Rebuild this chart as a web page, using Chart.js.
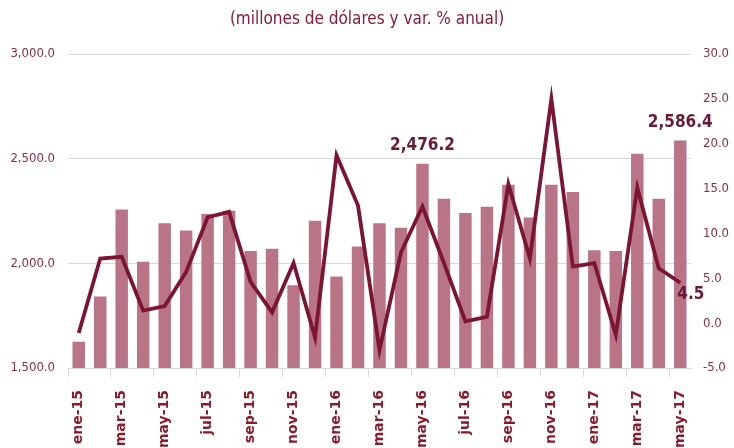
<!DOCTYPE html>
<html>
<head>
<meta charset="utf-8">
<script src="https://cdn.jsdelivr.net/npm/chart.js@4"></script>
<style>
  html, body { margin: 0; padding: 0; background: #fff; }
  #wrap { width: 734px; height: 448px; position: relative; }
</style>
</head>
<body>
<div id="wrap"><canvas id="chart"></canvas></div>
<script>
// --- Data ---
const months = [
  "ene-15", "feb-15", "mar-15", "abr-15", "may-15", "jun-15", "jul-15", "ago-15", "sep-15", "oct-15", "nov-15", "dic-15",
  "ene-16", "feb-16", "mar-16", "abr-16", "may-16", "jun-16", "jul-16", "ago-16", "sep-16", "oct-16", "nov-16", "dic-16",
  "ene-17", "feb-17", "mar-17", "abr-17", "may-17"
];
// millones de dólares (left axis)
const montos = [
  1625, 1841, 2257, 2008, 2192, 2157, 2236, 2251, 2059, 2070, 1895, 2203,
  1937, 2081, 2192, 2170, 2476.2, 2308, 2241, 2270, 2375, 2219, 2375, 2341,
  2063, 2059, 2524, 2308, 2586.4
];
// var. % anual (right axis)
const variacion = [
  -1.1, 7.2, 7.4, 1.4, 1.9, 5.7, 11.8, 12.4, 4.6, 1.2, 6.7, -1.6,
  18.7, 13.1, -3.0, 7.9, 13.0, 6.7, 0.2, 0.7, 15.5, 7.2, 25.0, 6.3,
  6.7, -1.3, 15.1, 6.1, 4.5
];
const leftTicks = [1500, 2000, 2500, 3000];
const rightTicks = [-5, 0, 5, 10, 15, 20, 25, 30];

const titleText = "(millones de dólares y var. % anual)";
const barLabelIdx = [16, 28];   // bars with a value label
const lineLabelIdx = [28];      // line point with a value label

const narrow = "'Liberation Sans Narrow', 'DejaVu Sans Condensed', 'Open Sans', sans-serif";
const fmt = (v, d) => v.toLocaleString("en-US", { minimumFractionDigits: d, maximumFractionDigits: d });

// Title and data labels drawn on the canvas
const labelsPlugin = {
  id: "labels",
  afterDatasetsDraw(chart) {
    const ctx = chart.ctx;
    ctx.save();
    ctx.fillStyle = "#8b1a34";
    ctx.font = "17px " + narrow;
    ctx.textAlign = "center";
    ctx.textBaseline = "middle";
    ctx.fillText(titleText, 367, 20);

    ctx.fillStyle = "#6a1a38";
    ctx.font = "bold 17px " + narrow;
    const barMeta = chart.getDatasetMeta(0);
    barLabelIdx.forEach((i) => {
      const el = barMeta.data[i];
      ctx.fillText(fmt(montos[i], 1), el.x, el.y - 18);
    });
    const lineMeta = chart.getDatasetMeta(1);
    ctx.textAlign = "left";
    ctx.textBaseline = "top";
    lineLabelIdx.forEach((i) => {
      const el = lineMeta.data[i];
      ctx.fillText(fmt(variacion[i], 1), el.x - 3, el.y + 3);
    });
    ctx.restore();
  },
};

new Chart(document.getElementById("chart"), {
  data: {
    labels: months,
    datasets: [
      {
        type: "bar",
        label: "Millones de dólares",
        data: montos,
        backgroundColor: "#b97587",
        barPercentage: 0.58,
        categoryPercentage: 1.0,
        yAxisID: "y",
        order: 2,
      },
      {
        type: "line",
        label: "Var. % anual",
        data: variacion,
        borderColor: "#7c1533",
        borderWidth: 3.8,
        pointRadius: 0,
        tension: 0,
        yAxisID: "y1",
        order: 1,
      },
    ],
  },
  options: {
    responsive: true,
    maintainAspectRatio: false,
    animation: false,
    layout: { padding: { top: 54, right: 0, left: 0, bottom: 0 } },
    plugins: {
      legend: { display: false },
      tooltip: { enabled: false },
    },
    scales: {
      x: {
        offset: true,
        grid: {
          offset: true,
          drawOnChartArea: false,
          tickLength: 9,
          color: (c) => (c.index !== undefined && c.index % 2 === 0 ? "#d9d9d9" : "rgba(0,0,0,0)"),
        },
        border: { color: "#d9d9d9" },
        ticks: {
          autoSkip: false,
          maxRotation: 90,
          minRotation: 90,
          padding: 13,
          color: "#8b1a2b",
          font: { family: "'DejaVu Sans', sans-serif", size: 14, weight: "bold" },
          callback: (v, i) => (i % 2 === 0 ? months[i] : ""),
        },
        afterFit: (s) => { s.height = 80; },
      },
      y: {
        position: "left",
        min: 1500,
        max: 3000,
        afterBuildTicks: (s) => { s.ticks = leftTicks.map((v) => ({ value: v })); },
        grid: { color: "#d9d9d9", drawTicks: false },
        border: { display: false },
        ticks: {
          padding: 13,
          color: "#8b2f3c",
          font: { family: narrow, size: 13 },
          callback: (v) => fmt(v, 1),
        },
        afterFit: (s) => { s.width = 68; },
      },
      y1: {
        position: "right",
        min: -5,
        max: 30,
        afterBuildTicks: (s) => { s.ticks = rightTicks.map((v) => ({ value: v })); },
        grid: { drawOnChartArea: false, drawTicks: false },
        border: { display: false },
        ticks: {
          padding: 12,
          color: "#8b2f3c",
          font: { family: narrow, size: 13 },
          callback: (v) => fmt(v, 1),
        },
        afterFit: (s) => { s.width = 43; },
      },
    },
  },
  plugins: [labelsPlugin],
});
</script>
</body>
</html>
